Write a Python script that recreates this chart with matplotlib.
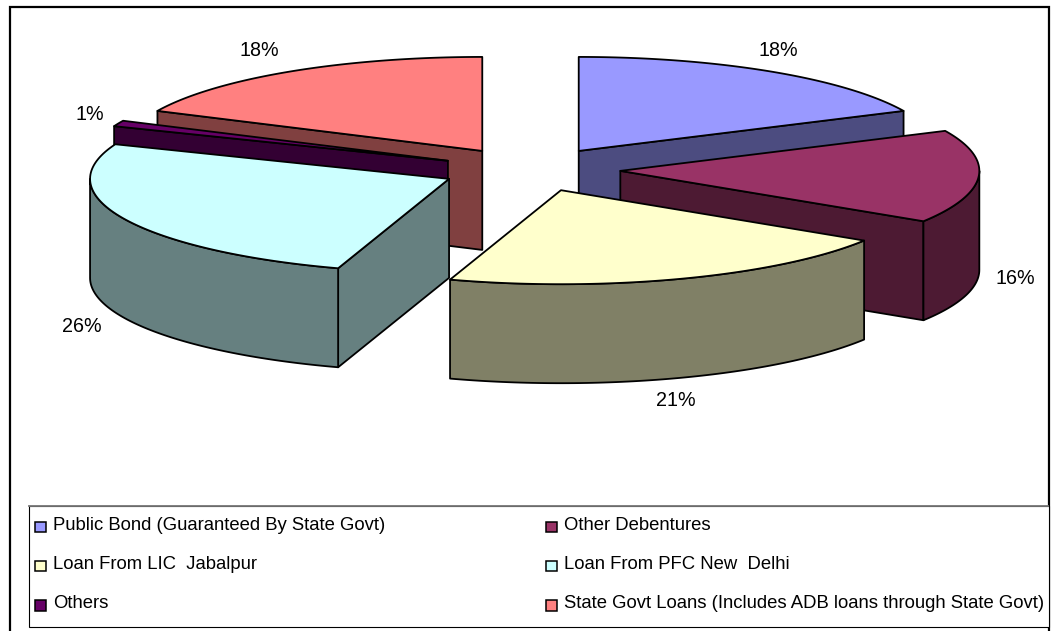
import numpy as np
from matplotlib import pyplot as plt
from matplotlib.patches import Polygon, Rectangle

NAMES = [
    "Public Bond (Guaranteed By State Govt)",
    "Other Debentures",
    "Loan From LIC  Jabalpur",
    "Loan From PFC New  Delhi",
    "Others",
    "State Govt Loans (Includes ADB loans through State Govt)",
]
SHARES = [18, 16, 21, 26, 1, 18]
TOP_COLOURS = ["#9999FF", "#993366", "#FFFFCC", "#CCFFFF", "#660066", "#FF8080"]
SIDE_COLOURS = ["#4C4C80", "#4D1A33", "#808066", "#668080", "#330033", "#804040"]

# pie geometry, in pixels
CX, CY = 530.5, 169.5
RX, RY = 359, 94
DEPTH = 99
EXPLODE_X, EXPLODE_Y = 90, 22
LABEL_POS = [(778, 51), (1015, 279), (676, 400), (82, 326), (90, 115), (259, 50)]

plt.rcParams["font.family"] = ["Liberation Sans", "DejaVu Sans"]
LEGEND_FONT = 13.35
LABEL_FONT = 14.2
EDGE = 1.3


def arc(x0, y0, t0, t1, drop=0):
    t = np.radians(np.linspace(t0, t1, 80))
    return np.column_stack([x0 + RX * np.sin(t), y0 - RY * np.cos(t) + drop])


def add_face(ax, points, colour):
    ax.add_patch(Polygon(points, closed=True, facecolor=colour, edgecolor="black",
                         linewidth=EDGE, joinstyle="round"))


def radial_face(x0, y0, t):
    rim = arc(x0, y0, t, t, 0)[0]
    return [(x0, y0), rim, (rim[0], rim[1] + DEPTH), (x0, y0 + DEPTH)]


fig = plt.figure(figsize=(10.51, 6.31), dpi=100)
ax = fig.add_axes([0, 0, 1, 1])
ax.set_xlim(0, 1051)
ax.set_ylim(631, 0)
ax.axis("off")

# chart frame, runs off the bottom edge
ax.add_patch(Rectangle((9.5, 7), 1039, 640, facecolor="white", edgecolor="black", linewidth=1.6))

edges = np.cumsum([0] + SHARES) * 360 / sum(SHARES)
slices = []
for i in range(len(SHARES)):
    t0, t1 = edges[i], edges[i + 1]
    mid = np.radians((t0 + t1) / 2)
    slices.append((CY - EXPLODE_Y * np.cos(mid), CX + EXPLODE_X * np.sin(mid), t0, t1, i))

# back slices first so the nearer ones cover them
for y0, x0, t0, t1, i in sorted(slices):
    side = SIDE_COLOURS[i]
    if 0 < t1 < 180:
        add_face(ax, radial_face(x0, y0, t1), side)
    if t0 > 180:
        add_face(ax, radial_face(x0, y0, t0), side)
    front0, front1 = max(t0, 90), min(t1, 270)
    if front0 < front1:
        upper = arc(x0, y0, front0, front1)
        lower = arc(x0, y0, front0, front1, DEPTH)
        add_face(ax, np.vstack([upper, lower[::-1]]), side)
    add_face(ax, np.vstack([[(x0, y0)], arc(x0, y0, t0, t1)]), TOP_COLOURS[i])

for share, (lx, ly) in zip(SHARES, LABEL_POS):
    ax.text(lx, ly, f"{share}%", fontsize=LABEL_FONT, ha="center", va="center")

# legend box, two columns filled row by row
ax.add_patch(Rectangle((28.5, 506), 1020, 121, facecolor="white", edgecolor="black", linewidth=0.8))
ax.plot([28.5, 1048], [506, 506], color="#777777", linewidth=1.3)
rows = [526.5, 565.5, 605]
cols = [35, 546]
for i, name in enumerate(NAMES):
    x = cols[i % 2]
    y = rows[i // 2]
    ax.add_patch(Rectangle((x, y - 5), 10.5, 10.5, facecolor=TOP_COLOURS[i], edgecolor="black", linewidth=1.1))
    ax.text(x + 18, y - 1, name, fontsize=LEGEND_FONT, ha="left", va="center")

fig.savefig("out.png", dpi=100)
